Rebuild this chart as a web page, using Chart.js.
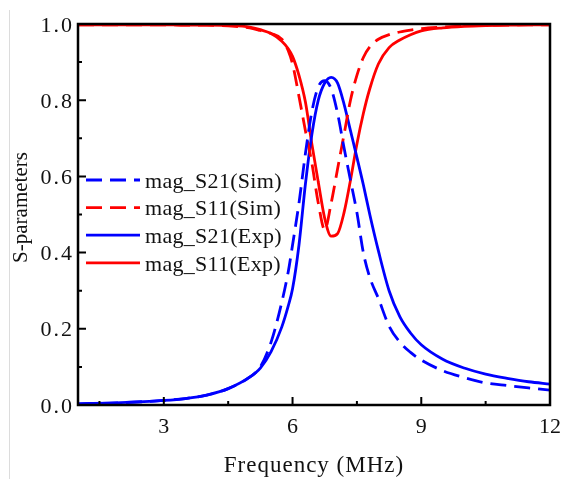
<!DOCTYPE html>
<html>
<head>
<meta charset="utf-8">
<script src="https://cdn.jsdelivr.net/npm/chart.js@4.4.1/dist/chart.umd.min.js"></script>
<style>
  html, body { margin: 0; padding: 0; background: #fff; }
  #wrap { width: 571px; height: 479px; position: relative; }
</style>
</head>
<body>
<div id="wrap"><canvas id="chart" width="571" height="479"></canvas></div>
<script>
// S-parameter magnitudes vs frequency (MHz)
const freq = [1, 2, 3, 3.5, 4, 4.5, 5, 5.25, 5.5, 5.75, 5.9, 6, 6.15, 6.3, 6.45, 6.6, 6.75, 6.9, 7.05,
  7.2, 7.35, 7.5, 7.65, 7.8, 8, 8.25, 8.5, 8.75, 9, 9.5, 10, 10.5, 11, 11.5, 12];

const s21Sim = [0.003, 0.006, 0.012, 0.017, 0.026, 0.043, 0.073, 0.1, 0.165, 0.27, 0.35, 0.42, 0.53,
  0.66, 0.77, 0.835, 0.851, 0.83, 0.765, 0.675, 0.59, 0.505, 0.4, 0.335, 0.28, 0.207, 0.165, 0.138,
  0.118, 0.09, 0.072, 0.058, 0.051, 0.045, 0.039];

const s11Sim = [0.998, 0.998, 0.998, 0.997, 0.997, 0.995, 0.99, 0.983, 0.975, 0.96, 0.93, 0.895, 0.81,
  0.72, 0.635, 0.53, 0.46, 0.53, 0.62, 0.71, 0.8, 0.865, 0.912, 0.94, 0.96, 0.972, 0.979, 0.984,
  0.988, 0.992, 0.995, 0.997, 0.997, 0.998, 0.998];

const s21Exp = [0.003, 0.006, 0.012, 0.017, 0.026, 0.043, 0.073, 0.097, 0.14, 0.205, 0.26, 0.305, 0.42,
  0.58, 0.71, 0.8, 0.845, 0.86, 0.845, 0.79, 0.72, 0.65, 0.578, 0.5, 0.405, 0.3, 0.232, 0.189, 0.158,
  0.12, 0.097, 0.081, 0.07, 0.061, 0.055];

const s11Exp = [0.998, 0.998, 0.998, 0.997, 0.997, 0.996, 0.992, 0.985, 0.975, 0.955, 0.935, 0.915,
  0.865, 0.795, 0.685, 0.585, 0.49, 0.443, 0.45, 0.505, 0.59, 0.685, 0.765, 0.83, 0.895, 0.938,
  0.958, 0.972, 0.982, 0.99, 0.994, 0.996, 0.997, 0.998, 0.998];

const xTicks = [3, 6, 9, 12];
const xMinorTicks = [1.5, 4.5, 7.5, 10.5];
const yTicks = [0, 0.2, 0.4, 0.6, 0.8, 1.0];
const yMinorTicks = [0.1, 0.3, 0.5, 0.7, 0.9];

const BLUE = '#0000ff';
const RED = '#ff0000';
const INK = '#111';
const FONT = '"Liberation Serif", "Times New Roman", serif';

function pts(vals) { return freq.map((f, i) => ({ x: f, y: vals[i] })); }

function series(label, vals, color, dashed) {
  return {
    label,
    data: pts(vals),
    borderColor: color,
    backgroundColor: color,
    borderWidth: 2.8,
    borderDash: dashed ? [16, 8] : [],
    pointRadius: 0,
    fill: false,
    cubicInterpolationMode: 'monotone'
  };
}

// frame + inward ticks (left and bottom only)
const framePlugin = {
  id: 'frame',
  afterDatasetsDraw(chart) {
    const { ctx, chartArea: a, scales: { x, y } } = chart;
    ctx.save();
    ctx.strokeStyle = '#000';
    ctx.lineWidth = 2.5;
    ctx.strokeRect(a.left, a.top, a.right - a.left, a.bottom - a.top);
    ctx.lineWidth = 2;
    ctx.beginPath();
    xTicks.forEach(v => { const px = x.getPixelForValue(v); ctx.moveTo(px, a.bottom); ctx.lineTo(px, a.bottom - 8); });
    xMinorTicks.forEach(v => { const px = x.getPixelForValue(v); ctx.moveTo(px, a.bottom); ctx.lineTo(px, a.bottom - 4); });
    yTicks.forEach(v => { const py = y.getPixelForValue(v); ctx.moveTo(a.left, py); ctx.lineTo(a.left + 8, py); });
    yMinorTicks.forEach(v => { const py = y.getPixelForValue(v); ctx.moveTo(a.left, py); ctx.lineTo(a.left + 4, py); });
    ctx.stroke();
    // faint page edge seen at the left of the original
    ctx.strokeStyle = '#dcdcdc';
    ctx.lineWidth = 1;
    ctx.beginPath();
    ctx.moveTo(9.5, 10);
    ctx.lineTo(9.5, 479);
    ctx.stroke();
    ctx.restore();
  }
};

// tick labels and axis titles, drawn at the scale positions
const textPlugin = {
  id: 'axisText',
  afterDraw(chart) {
    const { ctx, chartArea: a, scales: { x, y } } = chart;
    ctx.save();
    ctx.fillStyle = INK;
    ctx.textBaseline = 'alphabetic';

    ctx.font = '22px ' + FONT;
    ctx.letterSpacing = '2px';
    ctx.textAlign = 'right';
    yTicks.forEach(v => ctx.fillText(v.toFixed(1), 74, y.getPixelForValue(v) + 7.5));

    ctx.letterSpacing = '0px';
    ctx.textAlign = 'center';
    xTicks.forEach(v => ctx.fillText(String(v), x.getPixelForValue(v), 433));

    ctx.font = '23px ' + FONT;
    ctx.letterSpacing = '1px';
    ctx.fillText('Frequency (MHz)', (a.left + a.right) / 2, 471.5);

    ctx.font = '21px ' + FONT;
    ctx.letterSpacing = '0px';
    ctx.translate(27, 207.5);
    ctx.rotate(-Math.PI / 2);
    ctx.fillText('S-parameters', 0, 0);
    ctx.restore();
  }
};

// legend inside the plot, line samples take dash from the datasets
const legendPlugin = {
  id: 'insideLegend',
  afterDraw(chart) {
    const { ctx } = chart;
    const x0 = 86, x1 = 140, tx = 145, y0 = 180, gap = 27.6;
    ctx.save();
    ctx.font = '22px ' + FONT;
    ctx.letterSpacing = '0.3px';
    ctx.textBaseline = 'alphabetic';
    ctx.fillStyle = INK;
    chart.data.datasets.forEach((ds, i) => {
      const yy = y0 + i * gap;
      ctx.strokeStyle = ds.borderColor;
      ctx.lineWidth = ds.borderWidth;
      ctx.setLineDash(ds.borderDash);
      ctx.beginPath();
      ctx.moveTo(x0, yy);
      ctx.lineTo(x1, yy);
      ctx.stroke();
      ctx.fillText(ds.label, tx, yy + 7.7);
    });
    ctx.restore();
  }
};

new Chart(document.getElementById('chart'), {
  type: 'line',
  data: {
    datasets: [
      series('mag_S21(Sim)', s21Sim, BLUE, true),
      series('mag_S11(Sim)', s11Sim, RED, true),
      series('mag_S21(Exp)', s21Exp, BLUE, false),
      series('mag_S11(Exp)', s11Exp, RED, false)
    ]
  },
  options: {
    responsive: false,
    animation: false,
    events: [],
    layout: { padding: { top: 24, right: 21, left: 0, bottom: 0 } },
    plugins: { legend: { display: false }, tooltip: { enabled: false } },
    scales: {
      x: {
        type: 'linear',
        min: 1,
        max: 12,
        afterBuildTicks: s => { s.ticks = xTicks.map(v => ({ value: v })); },
        afterFit: s => { s.height = 74; },
        grid: { display: false, drawTicks: false },
        border: { display: false },
        ticks: { display: false }
      },
      y: {
        min: 0,
        max: 1,
        afterBuildTicks: s => { s.ticks = yTicks.map(v => ({ value: v })); },
        afterFit: s => { s.width = 78; },
        grid: { display: false, drawTicks: false },
        border: { display: false },
        ticks: { display: false }
      }
    }
  },
  plugins: [framePlugin, textPlugin, legendPlugin]
});
</script>
</body>
</html>
